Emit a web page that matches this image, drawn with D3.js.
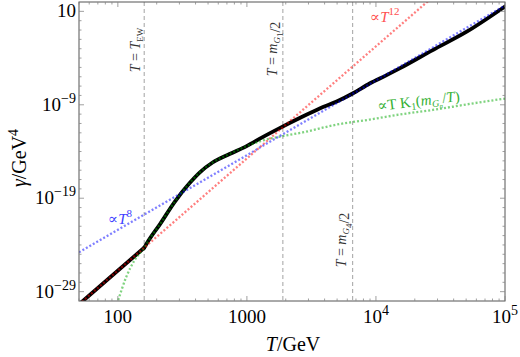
<!DOCTYPE html>
<html>
<head>
<meta charset="utf-8">
<script src="https://cdn.jsdelivr.net/npm/d3@7"></script>
<style>
  body { margin: 0; background: #fff; }
  text { font-family: "Liberation Serif", "DejaVu Serif", serif; }
</style>
</head>
<body>
<svg id="chart" width="520" height="357"></svg>
<script>
// full rate (black); the first two points are the T^12 branch below T_EW
var blackT     = [50, 160, 176, 211, 275, 360, 430, 542, 734, 995, 1325, 1795, 2565, 3665, 4965, 6600, 8935, 12100, 15270, 27540, 50500, 100000];
var blackGamma = [4.4e-31, 5.0e-25, 4.3e-24, 1.5e-22, 3.9e-20, 4.2e-18, 5.6e-17, 6.6e-16, 5.4e-15, 3.8e-14, 3.5e-13, 3.2e-12, 3.8e-11, 4.0e-10, 2.2e-9, 1.6e-8, 1.9e-7, 1.5e-6, 7.9e-6, 7.2e-4, 6.6e-2, 33];

// ∝ T K1(m/T) (green)
var greenT     = [96, 100, 116, 135, 160, 176, 211, 275, 360, 430, 542, 734, 995, 1325, 1900, 2700, 4965, 8935, 15270, 27540, 50500, 100000];
var greenGamma = [2e-31, 1.0e-30, 3.6e-28, 2.4e-26, 5.0e-25, 4.3e-24, 1.5e-22, 3.9e-20, 4.2e-18, 5.6e-17, 6.6e-16, 5.4e-15, 3.8e-14, 1.5e-13, 4.5e-13, 1.1e-12, 7.6e-12, 2.6e-11, 9.1e-11, 2.8e-10, 1.1e-9, 4.7e-9];

// ∝ T^12 (red) and ∝ T^8 (blue)
var redT      = [50, 30000];
var redGamma  = [4.4e-31, 9.5e2];
var blueT     = [50, 100000];
var blueGamma = [1.6e-25, 41];

// vertical markers: T_EW, m_G1/2, m_G4/2
var markerT = [160, 1900, 6600];

// tick labels
var xTickVals = [100, 1000, 1e4, 1e5];
var xTickBase = ["100", "1000", "10", "10"];
var xTickExp  = ["", "", "4", "5"];
var yTickVals = [1e1, 1e-9, 1e-19, 1e-29];
var yTickBase = ["10", "10", "10", "10"];
var yTickExp  = ["", "\u22129", "\u221219", "\u221229"];

var svg = d3.select("#chart");
var pL = 79, pR = 505, pT = 2, pB = 301;

var x = d3.scaleLog().domain([50, 1e5]).range([pL, pR]);
var y = d3.scaleLog().domain([1e-30, 1e2]).range([pB, pT]);

svg.append("defs").append("clipPath").attr("id", "clip")
  .append("rect").attr("x", pL).attr("y", pT)
  .attr("width", pR - pL).attr("height", pB - pT);

var plot = svg.append("g").attr("clip-path", "url(#clip)");

// dashed markers
plot.selectAll("line.marker")
  .data(markerT)
  .enter().append("line")
  .attr("class", "marker")
  .attr("x1", function(d) { return x(d); })
  .attr("x2", function(d) { return x(d); })
  .attr("y1", pT).attr("y2", pB)
  .style("stroke", "#999")
  .style("stroke-width", 0.9)
  .style("stroke-dasharray", "4,3");

var line = d3.line()
  .x(function(d) { return x(d[0]); })
  .y(function(d) { return y(d[1]); })
  .curve(d3.curveMonotoneX);

function pairs(a, b) { return a.map(function(v, i) { return [v, b[i]]; }); }

// black: split at T_EW so the kink stays sharp
var blackPts = pairs(blackT, blackGamma);
[blackPts.slice(0, 2), blackPts.slice(1)].forEach(function(seg) {
  plot.append("path")
    .datum(seg)
    .attr("d", line)
    .style("fill", "none")
    .style("stroke", "#000")
    .style("stroke-width", 3.8)
    .style("stroke-linejoin", "round")
    .style("stroke-linecap", "round");
});

var dotted = [
  { t: greenT, g: greenGamma, c: "#00a800" },
  { t: redT, g: redGamma, c: "#ff0000" },
  { t: blueT, g: blueGamma, c: "#0000ff" }
];

dotted.forEach(function(s) {
  plot.append("path")
    .datum(pairs(s.t, s.g))
    .attr("d", line)
    .style("fill", "none")
    .style("stroke", s.c)
    .style("stroke-opacity", 0.5)
    .style("stroke-width", 2.3)
    .style("stroke-dasharray", "2,2");
});

// frame
svg.append("rect")
  .attr("x", pL).attr("y", pT)
  .attr("width", pR - pL).attr("height", pB - pT)
  .style("fill", "none")
  .style("stroke", "#555")
  .style("stroke-width", 1);

// x ticks (inward, bottom and top)
var xMinor = [];
[10, 100, 1000, 10000].forEach(function(dec) {
  for (var k = 1; k <= 9; k++) {
    var v = dec * k;
    if (v >= 50 && v <= 1e5) xMinor.push(v);
  }
});
xMinor.push(1e5);
var ticks = svg.append("g").style("stroke", "#888").style("stroke-width", 0.8);
xMinor.forEach(function(v) {
  var major = xTickVals.indexOf(v) >= 0;
  var len = major ? 5 : 2.5;
  ticks.append("line").attr("x1", x(v)).attr("x2", x(v)).attr("y1", pB).attr("y2", pB - len);
  ticks.append("line").attr("x1", x(v)).attr("x2", x(v)).attr("y1", pT).attr("y2", pT + len);
});

// y ticks, one per decade
for (var e = -29; e <= 1; e++) {
  var major = (e - 1) % 10 === 0;
  var len = major ? 5 : 2.5;
  var yy = y(Math.pow(10, e));
  ticks.append("line").attr("x1", pL).attr("x2", pL + len).attr("y1", yy).attr("y2", yy);
  ticks.append("line").attr("x1", pR).attr("x2", pR - len).attr("y1", yy).attr("y2", yy);
}

// tick labels
xTickVals.forEach(function(v, i) {
  var t = svg.append("text")
    .attr("x", x(v)).attr("y", 323)
    .attr("text-anchor", "middle")
    .style("font-size", "19px");
  t.append("tspan").text(xTickBase[i]);
  if (xTickExp[i]) t.append("tspan").attr("dy", -8).style("font-size", "14px").text(xTickExp[i]);
});

yTickVals.forEach(function(v, i) {
  var t = svg.append("text")
    .attr("x", pL - 3).attr("y", y(v) + 6)
    .attr("text-anchor", "end")
    .style("font-size", "19px");
  t.append("tspan").text(yTickBase[i]);
  if (yTickExp[i]) t.append("tspan").attr("dy", -8).style("font-size", "14px").text(yTickExp[i]);
});

// axis titles
var xt = svg.append("text")
  .attr("x", 293).attr("y", 351)
  .attr("text-anchor", "middle")
  .style("font-size", "20px");
xt.append("tspan").style("font-style", "italic").text("T");
xt.append("tspan").text("/GeV");

var yt = svg.append("text")
  .attr("transform", "translate(26,158) rotate(-90)")
  .attr("text-anchor", "middle")
  .style("font-size", "20px");
yt.append("tspan").style("font-style", "italic").text("\u03b3");
yt.append("tspan").text("/GeV");
yt.append("tspan").attr("dy", -8).style("font-size", "14px").text("4");

// marker labels
function markerLabel(px, cy, parts) {
  var t = svg.append("text")
    .attr("transform", "translate(" + px + "," + cy + ") rotate(-90)")
    .attr("text-anchor", "middle")
    .style("font-size", "14px")
    .style("fill", "#333");
  parts.forEach(function(p) {
    var s = t.append("tspan").text(p.s);
    if (p.i) s.style("font-style", "italic");
    if (p.sub) s.style("font-size", "9px").attr("dy", 3);
    if (p.up) s.attr("dy", -3);
  });
}
markerLabel(140, 50, [{ s: "T", i: 1 }, { s: " = " }, { s: "T", i: 1 }, { s: "EW", sub: 1 }]);
markerLabel(277, 49, [{ s: "T", i: 1 }, { s: " = " }, { s: "m", i: 1 }, { s: "G", i: 1, sub: 1 }, { s: "1", sub: 1 }, { s: "/2", up: 1 }]);
markerLabel(346, 240, [{ s: "T", i: 1 }, { s: " = " }, { s: "m", i: 1 }, { s: "G", i: 1, sub: 1 }, { s: "4", sub: 1 }, { s: "/2", up: 1 }]);

// curve labels
var lr = svg.append("text").attr("x", 370).attr("y", 22).style("font-size", "15px").style("fill", "#ff5050");
lr.append("tspan").text("\u221d");
lr.append("tspan").style("font-style", "italic").text("T");
lr.append("tspan").attr("dy", -7).style("font-size", "11px").text("12");

var lb = svg.append("text").attr("x", 108).attr("y", 224).style("font-size", "15px").style("fill", "#4040ff");
lb.append("tspan").text("\u221d");
lb.append("tspan").style("font-style", "italic").text("T");
lb.append("tspan").attr("dy", -7).style("font-size", "11px").text("8");

var lg = svg.append("text")
  .attr("transform", "translate(378,111) rotate(-7)")
  .style("font-size", "15px").style("fill", "#33b033");
lg.append("tspan").text("\u221dT K");
lg.append("tspan").attr("dy", 3).style("font-size", "10px").text("1");
lg.append("tspan").attr("dy", -3).text("(");
lg.append("tspan").style("font-style", "italic").text("m");
lg.append("tspan").attr("dy", 3).style("font-size", "10px").style("font-style", "italic").text("G");
lg.append("tspan").attr("dy", 2).style("font-size", "7px").style("font-style", "italic").text("n");
lg.append("tspan").attr("dy", -5).text("/");
lg.append("tspan").style("font-style", "italic").text("T");
lg.append("tspan").text(")");
</script>
</body>
</html>
